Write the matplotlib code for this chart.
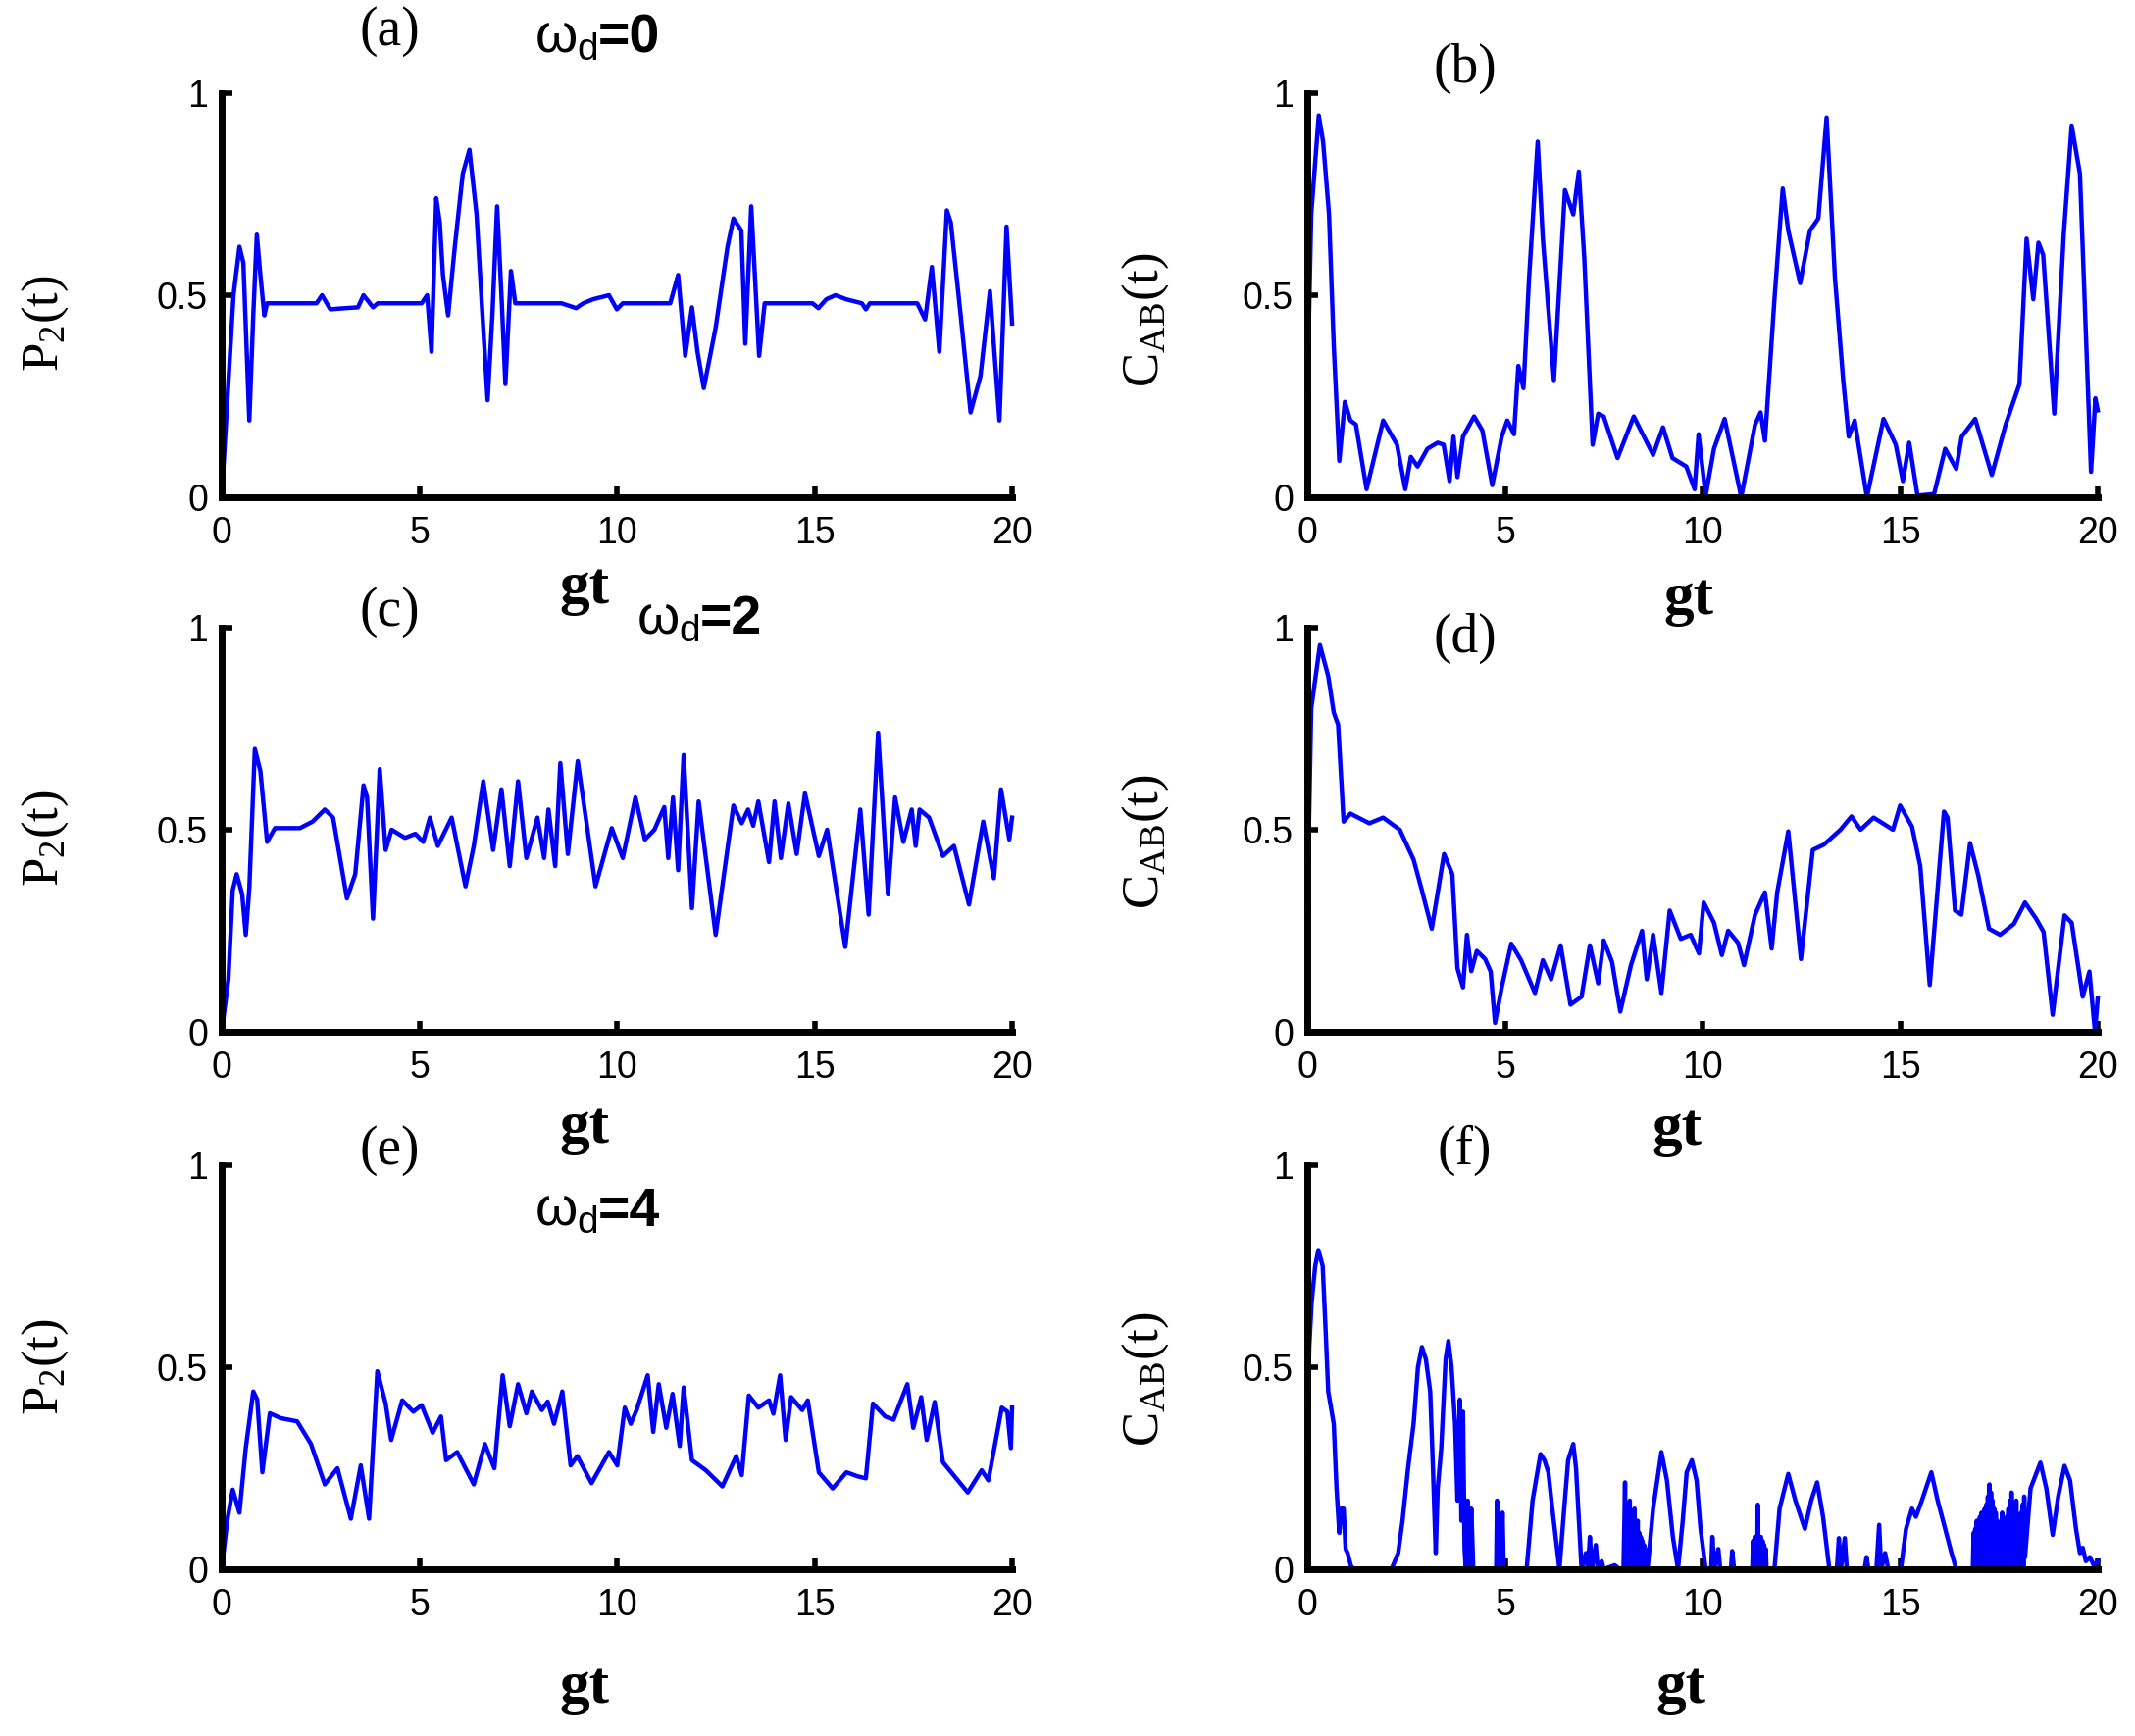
import matplotlib
matplotlib.use("Agg")
import matplotlib.pyplot as plt
from matplotlib.transforms import ScaledTranslation

# ---------------- data ----------------
a_t = [0, 0.15, 0.3, 0.45, 0.55, 0.70, 0.80, 0.89, 0.98, 1.08, 1.15, 2.4, 2.54, 2.75, 3.0, 3.45, 3.59, 3.83, 3.95,
       5.06, 5.2, 5.31, 5.43, 5.52, 5.6, 5.73, 5.9, 6.1, 6.27, 6.45, 6.6, 6.73, 6.85, 6.97, 7.08, 7.18, 7.32, 7.43,
       8.4, 8.6, 8.97, 9.15, 9.4, 9.8, 10.0, 10.15, 11.35, 11.55, 11.73, 11.9, 12.04, 12.2, 12.5, 12.8, 12.95, 13.15,
       13.25, 13.4, 13.6, 13.74, 14.95, 15.1, 15.3, 15.53, 15.8, 16.2, 16.3, 16.4, 17.6, 17.8, 17.97, 18.16, 18.35,
       18.45, 18.7, 18.95, 19.2, 19.44, 19.68, 19.86, 20.0]
a_v = [0.0, 0.25, 0.50, 0.62, 0.58, 0.19, 0.45, 0.65, 0.55, 0.45, 0.48, 0.48, 0.50, 0.465, 0.467, 0.47, 0.50, 0.47, 0.48,
       0.48, 0.50, 0.36, 0.74, 0.68, 0.55, 0.45, 0.62, 0.80, 0.86, 0.70, 0.45, 0.24, 0.45, 0.72, 0.50, 0.28, 0.56, 0.48,
       0.48, 0.48, 0.468, 0.48, 0.49, 0.50, 0.465, 0.48, 0.48, 0.55, 0.35, 0.47, 0.36, 0.27, 0.42, 0.62, 0.69, 0.66,
       0.38, 0.72, 0.35, 0.48, 0.48, 0.468, 0.49, 0.50, 0.49, 0.48, 0.465, 0.48, 0.48, 0.44, 0.57, 0.36, 0.71,
       0.68, 0.45, 0.21, 0.30, 0.51, 0.19, 0.67, 0.43]

b_t = [0, 0.1, 0.29, 0.4, 0.55, 0.67, 0.81, 0.95, 1.09, 1.23, 1.5, 1.92, 2.27, 2.48, 2.62, 2.79, 3.04, 3.3, 3.45, 3.6,
       3.7, 3.8, 3.94, 4.22, 4.43, 4.68, 4.92, 5.06, 5.23, 5.34, 5.47, 5.61, 5.83, 5.96, 6.24, 6.52, 6.73, 6.87, 7.01,
       7.22, 7.36, 7.5, 7.85, 8.26, 8.75, 9.0, 9.24, 9.59, 9.8, 9.9, 10.08, 10.29, 10.56, 10.98, 11.33, 11.47, 11.58,
       11.82, 12.03, 12.17, 12.47, 12.72, 12.93, 13.14, 13.35, 13.56, 13.7, 13.85, 14.16, 14.58, 14.89, 15.07, 15.23,
       15.44, 15.86, 16.14, 16.42, 16.56, 16.9, 17.32, 17.67, 18.02, 18.2, 18.37, 18.5, 18.62, 18.9, 19.14, 19.34,
       19.55, 19.83, 19.94, 20.0]
b_v = [0.25, 0.70, 0.945, 0.88, 0.70, 0.375, 0.09, 0.236, 0.19, 0.18, 0.02, 0.19, 0.13, 0.02, 0.10, 0.076, 0.12, 0.135,
       0.13, 0.04, 0.15, 0.05, 0.15, 0.20, 0.165, 0.03, 0.15, 0.19, 0.156, 0.325, 0.27, 0.54, 0.88, 0.64, 0.29, 0.76,
       0.70, 0.806, 0.59, 0.13, 0.207, 0.20, 0.097, 0.20, 0.105, 0.173, 0.097, 0.076, 0.02, 0.156, 0.004, 0.12, 0.194,
       0.0, 0.18, 0.21, 0.14, 0.49, 0.764, 0.66, 0.53, 0.66, 0.69, 0.94, 0.544, 0.29, 0.15, 0.19, 0.0, 0.194, 0.13, 0.04,
       0.135, 0.004, 0.008, 0.12, 0.07, 0.15, 0.194, 0.055, 0.18, 0.28, 0.64, 0.49, 0.63, 0.60, 0.207, 0.65, 0.92,
       0.80, 0.063, 0.245, 0.215]

c_t = [0, 0.17, 0.28, 0.38, 0.52, 0.61, 0.7, 0.84, 0.98, 1.15, 1.35, 1.98, 2.3, 2.61, 2.82, 3.17, 3.38, 3.59, 3.68,
       3.83, 4.0, 4.15, 4.3, 4.64, 4.9, 5.1, 5.27, 5.47, 5.82, 6.17, 6.38, 6.62, 6.87, 7.08, 7.29, 7.5, 7.71, 7.99,
       8.16, 8.27, 8.44, 8.57, 8.76, 9.01, 9.46, 9.87, 10.15, 10.47, 10.71, 10.95, 11.2, 11.3, 11.42, 11.55, 11.69,
       11.9, 12.07, 12.5, 12.95, 13.16, 13.32, 13.45, 13.58, 13.85, 13.99, 14.15, 14.34, 14.55, 14.76, 15.11, 15.32,
       15.78, 16.16, 16.37, 16.61, 16.86, 17.04, 17.25, 17.46, 17.56, 17.66, 17.9, 18.25, 18.53, 18.91, 19.27, 19.54,
       19.72, 19.93, 20.0]
c_v = [0.0, 0.13, 0.35, 0.39, 0.34, 0.24, 0.355, 0.70, 0.645, 0.47, 0.504, 0.504, 0.52, 0.55, 0.53, 0.33, 0.39, 0.61,
       0.58, 0.28, 0.65, 0.45, 0.50, 0.48, 0.49, 0.47, 0.53, 0.46, 0.53, 0.36, 0.46, 0.62, 0.45, 0.60, 0.41, 0.62, 0.43,
       0.53, 0.43, 0.55, 0.41, 0.665, 0.44, 0.67, 0.36, 0.504, 0.43, 0.58, 0.476, 0.50, 0.556, 0.43, 0.58, 0.40, 0.685,
       0.306, 0.57, 0.24, 0.56, 0.516, 0.55, 0.51, 0.57, 0.42, 0.57, 0.43, 0.565, 0.44, 0.59, 0.435, 0.50, 0.21, 0.55,
       0.29, 0.74, 0.34, 0.58, 0.47, 0.55, 0.46, 0.55, 0.53, 0.435, 0.46, 0.315, 0.52, 0.38, 0.60, 0.476, 0.53]

d_t = [0, 0.1, 0.32, 0.53, 0.67, 0.78, 0.92, 1.09, 1.57, 1.92, 2.34, 2.69, 2.9, 3.15, 3.46, 3.67, 3.8, 3.94, 4.04, 4.15,
       4.29, 4.5, 4.64, 4.75, 4.92, 5.16, 5.41, 5.76, 5.96, 6.17, 6.41, 6.66, 6.94, 7.15, 7.36, 7.5, 7.71, 7.92, 8.19,
       8.47, 8.59, 8.75, 8.96, 9.17, 9.45, 9.7, 9.91, 10.03, 10.29, 10.49, 10.65, 10.9, 11.05, 11.33, 11.58, 11.75,
       11.89, 12.17, 12.49, 12.79, 13.07, 13.49, 13.77, 14.0, 14.33, 14.82, 15.0, 15.3, 15.51, 15.75, 16.11, 16.2,
       16.39, 16.55, 16.77, 16.98, 17.25, 17.53, 17.88, 18.16, 18.44, 18.63, 18.86, 19.16, 19.34, 19.62, 19.79,
       19.93, 20.0]
d_v = [0.30, 0.80, 0.957, 0.88, 0.79, 0.76, 0.52, 0.54, 0.516, 0.53, 0.50, 0.426, 0.35, 0.255, 0.44, 0.39, 0.157, 0.11,
       0.24, 0.15, 0.20, 0.18, 0.149, 0.022, 0.11, 0.218, 0.177, 0.096, 0.177, 0.13, 0.214, 0.067, 0.087, 0.214, 0.12,
       0.226, 0.173, 0.05, 0.165, 0.25, 0.13, 0.24, 0.096, 0.30, 0.23, 0.24, 0.194, 0.32, 0.27, 0.19, 0.25, 0.22, 0.165,
       0.29, 0.345, 0.206, 0.345, 0.496, 0.18, 0.45, 0.463, 0.50, 0.533, 0.50, 0.53, 0.50, 0.56, 0.508, 0.41, 0.116,
       0.545, 0.53, 0.30, 0.29, 0.467, 0.386, 0.255, 0.24, 0.267, 0.32, 0.28, 0.247, 0.042, 0.288, 0.27, 0.087, 0.149,
       0.0, 0.083]

e_t = [0, 0.14, 0.28, 0.45, 0.61, 0.8, 0.9, 1.03, 1.22, 1.49, 1.91, 2.26, 2.61, 2.93, 3.27, 3.52, 3.73, 3.94, 4.15,
       4.29, 4.57, 4.85, 5.06, 5.34, 5.55, 5.68, 5.96, 6.38, 6.66, 6.9, 7.11, 7.29, 7.5, 7.71, 7.85, 8.1, 8.25, 8.41,
       8.62, 8.83, 9.0, 9.36, 9.8, 10.01, 10.2, 10.35, 10.5, 10.78, 10.92, 11.06, 11.25, 11.41, 11.59, 11.69, 11.9,
       12.25, 12.67, 13.02, 13.16, 13.34, 13.58, 13.85, 13.96, 14.13, 14.27, 14.41, 14.69, 14.83, 15.11, 15.46, 15.81,
       16.09, 16.3, 16.48, 16.79, 17.0, 17.35, 17.5, 17.7, 17.84, 18.04, 18.25, 18.88, 19.23, 19.4, 19.74, 19.88,
       19.97, 20.0]
e_v = [0.0, 0.12, 0.197, 0.14, 0.30, 0.44, 0.42, 0.24, 0.386, 0.374, 0.366, 0.31, 0.21, 0.25, 0.125, 0.257, 0.125, 0.49,
       0.41, 0.32, 0.418, 0.39, 0.406, 0.338, 0.378, 0.27, 0.29, 0.21, 0.31, 0.25, 0.48, 0.354, 0.458, 0.386, 0.44,
       0.394, 0.415, 0.36, 0.44, 0.257, 0.28, 0.213, 0.29, 0.257, 0.40, 0.36, 0.394, 0.48, 0.34, 0.458, 0.35, 0.434,
       0.305, 0.45, 0.27, 0.245, 0.205, 0.28, 0.233, 0.43, 0.40, 0.418, 0.385, 0.48, 0.32, 0.426, 0.394, 0.418, 0.24,
       0.20, 0.24, 0.23, 0.225, 0.41, 0.378, 0.37, 0.458, 0.35, 0.426, 0.32, 0.414, 0.265, 0.19, 0.245, 0.22, 0.40,
       0.39, 0.30, 0.40]

f_t = ([0.0, 0.05, 0.11, 0.2, 0.28, 0.39, 0.46, 0.53, 0.6, 0.67, 0.74, 0.81, 0.86, 0.92, 0.97, 1.02, 1.1, 1.16,
        2.13, 2.3, 2.41, 2.55, 2.69, 2.8, 2.9, 3.0, 3.11, 3.18, 3.25, 3.3, 3.39, 3.5, 3.57, 3.65, 3.74, 3.8, 3.86,
        3.9, 3.94, 3.98, 4.01, 4.06, 4.1, 4.15, 4.2, 4.78, 4.8, 4.83, 4.9, 4.94, 4.97, 5.55, 5.7, 5.9, 6.0, 6.1,
        6.2, 6.38, 6.5, 6.6, 6.73, 6.8, 6.94, 7.05, 7.1, 7.15, 7.2, 7.3, 7.35, 7.45, 7.5, 7.78, 7.9]
       + [8.00, 8.02, 8.04, 8.06, 8.08, 8.10, 8.12, 8.14, 8.16, 8.18, 8.20, 8.22, 8.24, 8.26, 8.28, 8.30, 8.32,
          8.34, 8.36, 8.38, 8.40, 8.42, 8.44, 8.46, 8.48, 8.50, 8.52, 8.54, 8.56, 8.58, 8.61]
       + [8.75, 8.96, 9.1, 9.25, 9.38, 9.5, 9.6, 9.73, 9.85, 9.95, 10.08, 10.22, 10.25, 10.3, 10.4, 10.45, 10.72,
          10.75, 10.8, 11.24]
       + [11.26, 11.28, 11.30, 11.32, 11.34, 11.36, 11.38, 11.40, 11.42, 11.44, 11.46, 11.48, 11.50, 11.52, 11.54,
          11.56, 11.58, 11.60, 11.62]
       + [11.82, 11.95, 12.17, 12.35, 12.59, 12.75, 12.9, 13.05, 13.21, 13.4, 13.45, 13.5, 13.6, 13.65, 14.1,
          14.15, 14.2, 14.4, 14.47, 14.52, 14.62, 14.7, 15.02, 15.15, 15.3, 15.4, 15.55, 15.79, 15.95, 16.14, 16.3,
          16.42, 16.82]
       + [16.84, 16.86, 16.88, 16.90, 16.92, 16.94, 16.96, 16.98, 17.00, 17.02, 17.04, 17.06, 17.08, 17.10, 17.12,
          17.14, 17.16, 17.18, 17.20, 17.22, 17.24, 17.26, 17.28, 17.30, 17.32, 17.34, 17.36, 17.38, 17.40, 17.42,
          17.44, 17.46, 17.48, 17.50, 17.52, 17.54, 17.56, 17.58, 17.60, 17.62, 17.64, 17.66, 17.68, 17.70, 17.72,
          17.74, 17.76, 17.78, 17.80, 17.82, 17.84, 17.86, 17.88, 17.90, 17.92, 17.94, 17.96, 17.98, 18.00, 18.02,
          18.04, 18.06, 18.08, 18.10, 18.12, 18.14, 18.16]
       + [18.3, 18.55, 18.7, 18.86, 19.0, 19.16, 19.3, 19.45, 19.55, 19.62, 19.7, 19.8, 19.9, 20.0])
f_v = ([0.30, 0.55, 0.66, 0.75, 0.79, 0.75, 0.60, 0.44, 0.40, 0.36, 0.20, 0.09, 0.15, 0.15, 0.05, 0.04, 0.01, 0.0,
        0.0, 0.04, 0.12, 0.25, 0.36, 0.50, 0.55, 0.52, 0.44, 0.25, 0.04, 0.20, 0.30, 0.52, 0.565, 0.50, 0.36, 0.17,
        0.42, 0.12, 0.39, 0.05, 0.0, 0.17, 0.0, 0.15, 0.0, 0.0, 0.17, 0.0, 0.0, 0.14, 0.0, 0.0, 0.17, 0.285, 0.27,
        0.24, 0.15, 0.0, 0.15, 0.27, 0.31, 0.25, 0.0, 0.04, 0.0, 0.08, 0.0, 0.06, 0.0, 0.02, 0.0, 0.01, 0.0]
       + [0.0, 0.10, 0.215, 0.0, 0.15, 0.02, 0.12, 0.0, 0.17, 0.01, 0.14, 0.0, 0.12, 0.02, 0.15, 0.0, 0.10, 0.01,
          0.12, 0.0, 0.09, 0.0, 0.08, 0.01, 0.07, 0.0, 0.06, 0.0, 0.05, 0.0, 0.0]
       + [0.15, 0.29, 0.22, 0.08, 0.0, 0.12, 0.24, 0.27, 0.22, 0.10, 0.0, 0.0, 0.08, 0.0, 0.05, 0.0, 0.0, 0.045,
          0.0, 0.0]
       + [0.0, 0.07, 0.0, 0.08, 0.01, 0.07, 0.0, 0.16, 0.02, 0.08, 0.0, 0.08, 0.01, 0.07, 0.0, 0.06, 0.0, 0.05, 0.0]
       + [0.0, 0.15, 0.236, 0.17, 0.10, 0.17, 0.215, 0.13, 0.0, 0.0, 0.077, 0.0, 0.077, 0.0, 0.0, 0.03, 0.0, 0.0,
          0.11, 0.0, 0.04, 0.0, 0.0, 0.10, 0.15, 0.13, 0.17, 0.24, 0.17, 0.10, 0.04, 0.0, 0.0]
       + [0.0, 0.09, 0.0, 0.10, 0.0, 0.12, 0.01, 0.11, 0.0, 0.13, 0.0, 0.14, 0.02, 0.13, 0.0, 0.15, 0.01, 0.16,
          0.0, 0.18, 0.02, 0.21, 0.0, 0.19, 0.01, 0.17, 0.0, 0.15, 0.02, 0.14, 0.0, 0.12, 0.0, 0.10, 0.01, 0.11,
          0.0, 0.14, 0.0, 0.12, 0.01, 0.11, 0.0, 0.13, 0.0, 0.15, 0.02, 0.17, 0.0, 0.19, 0.01, 0.16, 0.0, 0.13,
          0.0, 0.17, 0.02, 0.12, 0.0, 0.11, 0.0, 0.14, 0.01, 0.16, 0.0, 0.18, 0.03]
       + [0.20, 0.264, 0.20, 0.085, 0.18, 0.256, 0.22, 0.10, 0.04, 0.053, 0.02, 0.03, 0.01, 0.02])

panel_letters = ["(a)", "(b)", "(c)", "(d)", "(e)", "(f)"]
omega_values = ["0", "2", "4"]
x_ticks = [0, 5, 10, 15, 20]
y_ticks = [0, 0.5, 1]
y_ticklabels = ["0", "0.5", "1"]

series = [(a_t, a_v), (b_t, b_v), (c_t, c_v), (d_t, d_v), (e_t, e_v), (f_t, f_v)]

# ---------------- layout ----------------
W, H = 2177, 1770
fig = plt.figure(figsize=(W / 100, H / 100), dpi=100)

left_x, right_x = 226 / W, 1333 / W
ax_w = 806 / W
rows_bottom = [1 - 507 / H, 1 - 1052 / H, 1 - 1600 / H]
ax_h = 412 / H

sans = "Liberation Sans"
serif = "Liberation Serif"

ylabel_pos = [(-0.223, 0.43), (-0.205, 0.44), (-0.223, 0.48), (-0.205, 0.47), (-0.223, 0.50), (-0.205, 0.47)]
xlabel_pos = [(0.459, -0.225), (0.482, -0.252), (0.459, -0.238), (0.468, -0.243), (0.459, -0.294), (0.473, -0.294)]
letter_pos = [(0.213, 1.153), (0.199, 1.06), (0.213, 1.039), (0.199, 0.973), (0.213, 1.036), (0.199, 1.036)]
omega_pos = [(0.396, 1.100), (0.525, 0.985), (0.396, 0.850)]

omega_texts = []
for i, (t, v) in enumerate(series):
    row, col = divmod(i, 2)
    ax = fig.add_axes([left_x if col == 0 else right_x, rows_bottom[row], ax_w, ax_h])
    ax.plot(t, v, color="#0000ff", lw=3.2, clip_on=False, zorder=3)
    ax.set_xlim(0, 20)
    ax.set_ylim(0, 1)
    for s in ["top", "right"]:
        ax.spines[s].set_visible(False)
    for s in ["left", "bottom"]:
        ax.spines[s].set_linewidth(5)
        ax.spines[s].set_zorder(4)
    ax.set_xticks(x_ticks)
    ax.set_xticklabels([str(x) for x in x_ticks])
    ax.set_yticks(y_ticks)
    ax.set_yticklabels(y_ticklabels)
    ax.tick_params(direction="in", length=8, width=4, labelsize=27, pad=10)
    ax.tick_params(axis="x", pad=14)
    for lab in ax.get_xticklabels() + ax.get_yticklabels():
        lab.set_fontfamily(sans)
    if col == 0:
        ax.set_ylabel(r"$\mathregular{P_2(t)}$", fontsize=38, fontfamily=serif)
    else:
        ax.set_ylabel(r"$\mathregular{C_{AB}(t)}$", fontsize=38, fontfamily=serif)
    ax.yaxis.label.set_va("center")
    ax.yaxis.set_label_coords(*ylabel_pos[i])
    ax.set_xlabel("gt", fontsize=44, fontfamily=serif, fontweight="bold")
    ax.xaxis.label.set_va("center")
    ax.xaxis.set_label_coords(*xlabel_pos[i])
    ax.text(letter_pos[i][0], letter_pos[i][1], panel_letters[i], transform=ax.transAxes,
            fontsize=40, fontfamily=serif, ha="center", va="center")
    if col == 0:
        ox, oy = omega_pos[row]
        t1 = ax.text(ox, oy, r"$\mathregular{\omega_d}$", transform=ax.transAxes,
                     fontsize=40, fontfamily=sans, ha="left", va="baseline")
        omega_texts.append((ax, t1, omega_values[row]))

fig.canvas.draw()
renderer = fig.canvas.get_renderer()
for ax, t1, val in omega_texts:
    bb = t1.get_window_extent(renderer)
    dx = bb.width / fig.dpi
    ox, oy = t1.get_position()
    tr = ax.transAxes + ScaledTranslation(dx, 0, fig.dpi_scale_trans)
    ax.text(ox, oy, "=" + val, transform=tr, fontsize=40, fontfamily=sans, fontweight="bold",
            ha="left", va="baseline")

fig.savefig("out.png", dpi=100, facecolor="white")
